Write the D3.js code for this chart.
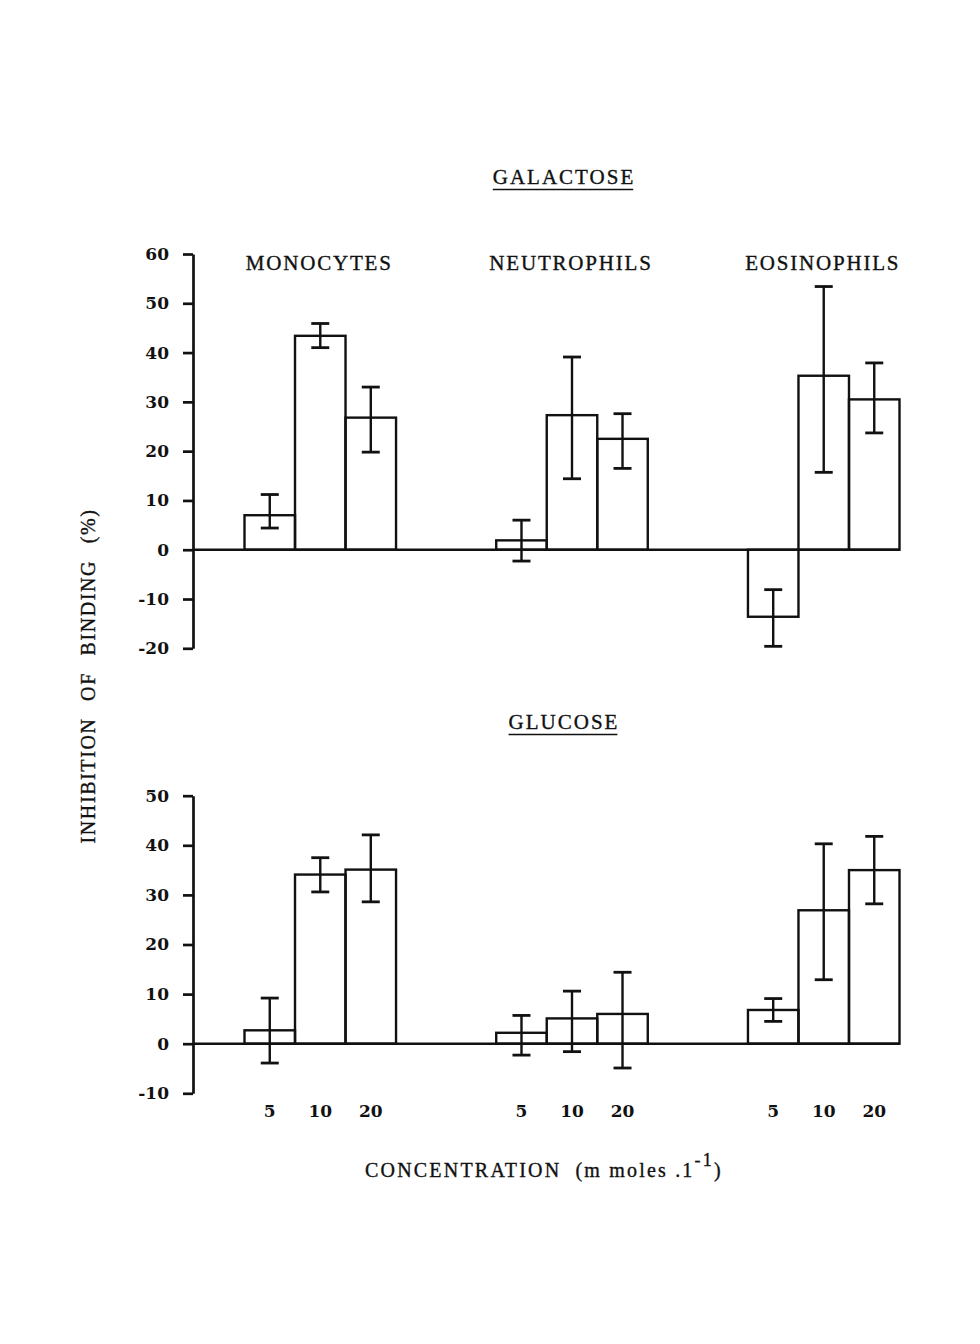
<!DOCTYPE html>
<html>
<head>
<meta charset="utf-8">
<script src="https://cdn.jsdelivr.net/npm/d3@7"></script>
<style>
  html, body { margin: 0; padding: 0; background: #ffffff; }
  svg { display: block; }
</style>
</head>
<body>
<svg id="chart" width="980" height="1344"></svg>
<script>
// ---------------- DATA ----------------
const groups = ["MONOCYTES", "NEUTROPHILS", "EOSINOPHILS"];
const concentrations = ["5", "10", "20"];

// Galactose: mean inhibition (%), error bar ends (upper / lower)
const galactoseValues = [[7.0, 43.4, 26.8], [1.9, 27.3, 22.5], [-13.6, 35.3, 30.5]];
const galactoseUpper  = [[11.2, 45.9, 33.0], [6.0, 39.1, 27.6], [-8.1, 53.4, 37.9]];
const galactoseLower  = [[4.4, 41.0, 19.8], [-2.3, 14.4, 16.5], [-19.6, 15.7, 23.7]];
const galactoseTicks  = [60, 50, 40, 30, 20, 10, 0, -10, -20];

// Glucose
const glucoseValues = [[2.7, 34.1, 35.1], [2.2, 5.1, 6.0], [6.8, 26.9, 35.0]];
const glucoseUpper  = [[9.2, 37.5, 42.1], [5.7, 10.6, 14.4], [9.1, 40.3, 41.8]];
const glucoseLower  = [[-3.9, 30.6, 28.6], [-2.3, -1.6, -4.9], [4.5, 12.9, 28.2]];
const glucoseTicks  = [50, 40, 30, 20, 10, 0, -10];

// ---------------- DRAWING ----------------
const svg = d3.select("#chart");
const INK = "#111";
const LW = 2.4;
const axisX = 193;
const SERIF = "'Liberation Serif', serif";

const xGroup = d3.scaleBand().domain(groups).range([244.5, 899.5]).paddingInner(0.398).paddingOuter(0);
const xConc = d3.scaleBand().domain(concentrations).range([0, xGroup.bandwidth()]).padding(0);

function inkText(sel, size, spacing) {
  return sel.attr("fill", INK)
    .attr("stroke", INK).attr("stroke-width", 0.35)
    .style("font-family", SERIF)
    .style("font-size", size + "px")
    .style("letter-spacing", spacing + "px");
}

function panel(cfg) {
  const y = d3.scaleLinear().domain(cfg.domain).range(cfg.range);
  const g = svg.append("g");

  // y axis
  const ax = g.append("g")
    .attr("transform", `translate(${axisX},0)`)
    .call(d3.axisLeft(y).tickValues(cfg.ticks).tickSize(10).tickSizeOuter(0).tickPadding(14)
      .tickFormat(d => String(d)));
  ax.select(".domain").attr("stroke", INK).attr("stroke-width", LW + 0.3);
  ax.selectAll(".tick line").attr("stroke", INK).attr("stroke-width", LW + 0.3);
  ax.selectAll(".tick text")
    .attr("fill", INK)
    .style("font-family", "'DejaVu Serif', serif")
    .style("font-weight", "bold")
    .style("font-size", "17px");

  // zero line
  g.append("line")
    .attr("x1", axisX).attr("x2", xGroup.range()[1])
    .attr("y1", y(0)).attr("y2", y(0))
    .attr("stroke", INK).attr("stroke-width", LW);

  const rows = [];
  groups.forEach((grp, gi) => concentrations.forEach((c, ci) => rows.push({
    grp, c, v: cfg.values[gi][ci], hi: cfg.upper[gi][ci], lo: cfg.lower[gi][ci]
  })));

  // bars
  g.selectAll("rect.bar").data(rows).join("rect")
    .attr("class", "bar")
    .attr("x", d => xGroup(d.grp) + xConc(d.c))
    .attr("width", xConc.bandwidth())
    .attr("y", d => y(Math.max(0, d.v)))
    .attr("height", d => Math.abs(y(d.v) - y(0)))
    .attr("fill", "none").attr("stroke", INK).attr("stroke-width", LW);

  // error bars
  const cx = d => xGroup(d.grp) + xConc(d.c) + xConc.bandwidth() / 2;
  const cap = 9;
  const eb = g.selectAll("g.err").data(rows).join("g").attr("class", "err");
  eb.append("line").attr("x1", cx).attr("x2", cx).attr("y1", d => y(d.hi)).attr("y2", d => y(d.lo))
    .attr("stroke", INK).attr("stroke-width", LW);
  eb.append("line").attr("x1", d => cx(d) - cap).attr("x2", d => cx(d) + cap).attr("y1", d => y(d.hi)).attr("y2", d => y(d.hi))
    .attr("stroke", INK).attr("stroke-width", LW + 0.4);
  eb.append("line").attr("x1", d => cx(d) - cap).attr("x2", d => cx(d) + cap).attr("y1", d => y(d.lo)).attr("y2", d => y(d.lo))
    .attr("stroke", INK).attr("stroke-width", LW + 0.4);

  // underlined title
  const t = inkText(svg.append("text"), 21, 2)
    .attr("x", 564).attr("y", cfg.titleY)
    .attr("text-anchor", "middle")
    .text(cfg.title);
  const bb = t.node().getBBox();
  svg.append("line")
    .attr("x1", bb.x).attr("x2", bb.x + bb.width - 2)
    .attr("y1", cfg.titleY + 6).attr("y2", cfg.titleY + 6)
    .attr("stroke", INK).attr("stroke-width", 1.6);

  return y;
}

const yTop = panel({
  domain: [-20, 60], range: [648.3, 254], ticks: galactoseTicks,
  values: galactoseValues, upper: galactoseUpper, lower: galactoseLower,
  title: "GALACTOSE", titleY: 183.5
});

const yBot = panel({
  domain: [-10, 50], range: [1093.3, 795.7], ticks: glucoseTicks,
  values: glucoseValues, upper: glucoseUpper, lower: glucoseLower,
  title: "GLUCOSE", titleY: 728.5
});

// cell-type labels
inkText(svg.selectAll("text.grp").data(groups).join("text"), 21, 1.8)
  .attr("class", "grp")
  .attr("x", d => xGroup(d) + xGroup.bandwidth() / 2 - 1)
  .attr("y", 269.5)
  .attr("text-anchor", "middle")
  .text(d => d);

// concentration axis labels below bottom panel
groups.forEach(grp => {
  const a = svg.append("g")
    .attr("transform", `translate(${xGroup(grp)},1093)`)
    .call(d3.axisBottom(xConc).tickSize(0).tickPadding(12));
  a.select(".domain").remove();
  a.selectAll(".tick text")
    .attr("fill", INK)
    .style("font-family", "'DejaVu Serif', serif")
    .style("font-weight", "bold")
    .style("font-size", "17px");
});

// y-axis title
inkText(svg.append("text"), 20, 1.6)
  .attr("transform", "translate(95,676) rotate(-90)")
  .attr("text-anchor", "middle")
  .style("word-spacing", "10px")
  .text("INHIBITION OF BINDING (%)");

// x-axis title
const xt = inkText(svg.append("text"), 20, 2.2)
  .attr("x", 365).attr("y", 1177);
xt.append("tspan").text("CONCENTRATION");
xt.append("tspan").attr("dx", 14).text("(m moles .1");
xt.append("tspan").attr("dy", -11).style("font-size", "18px").text("-1");
xt.append("tspan").attr("dy", 11).text(")");
</script>
</body>
</html>
